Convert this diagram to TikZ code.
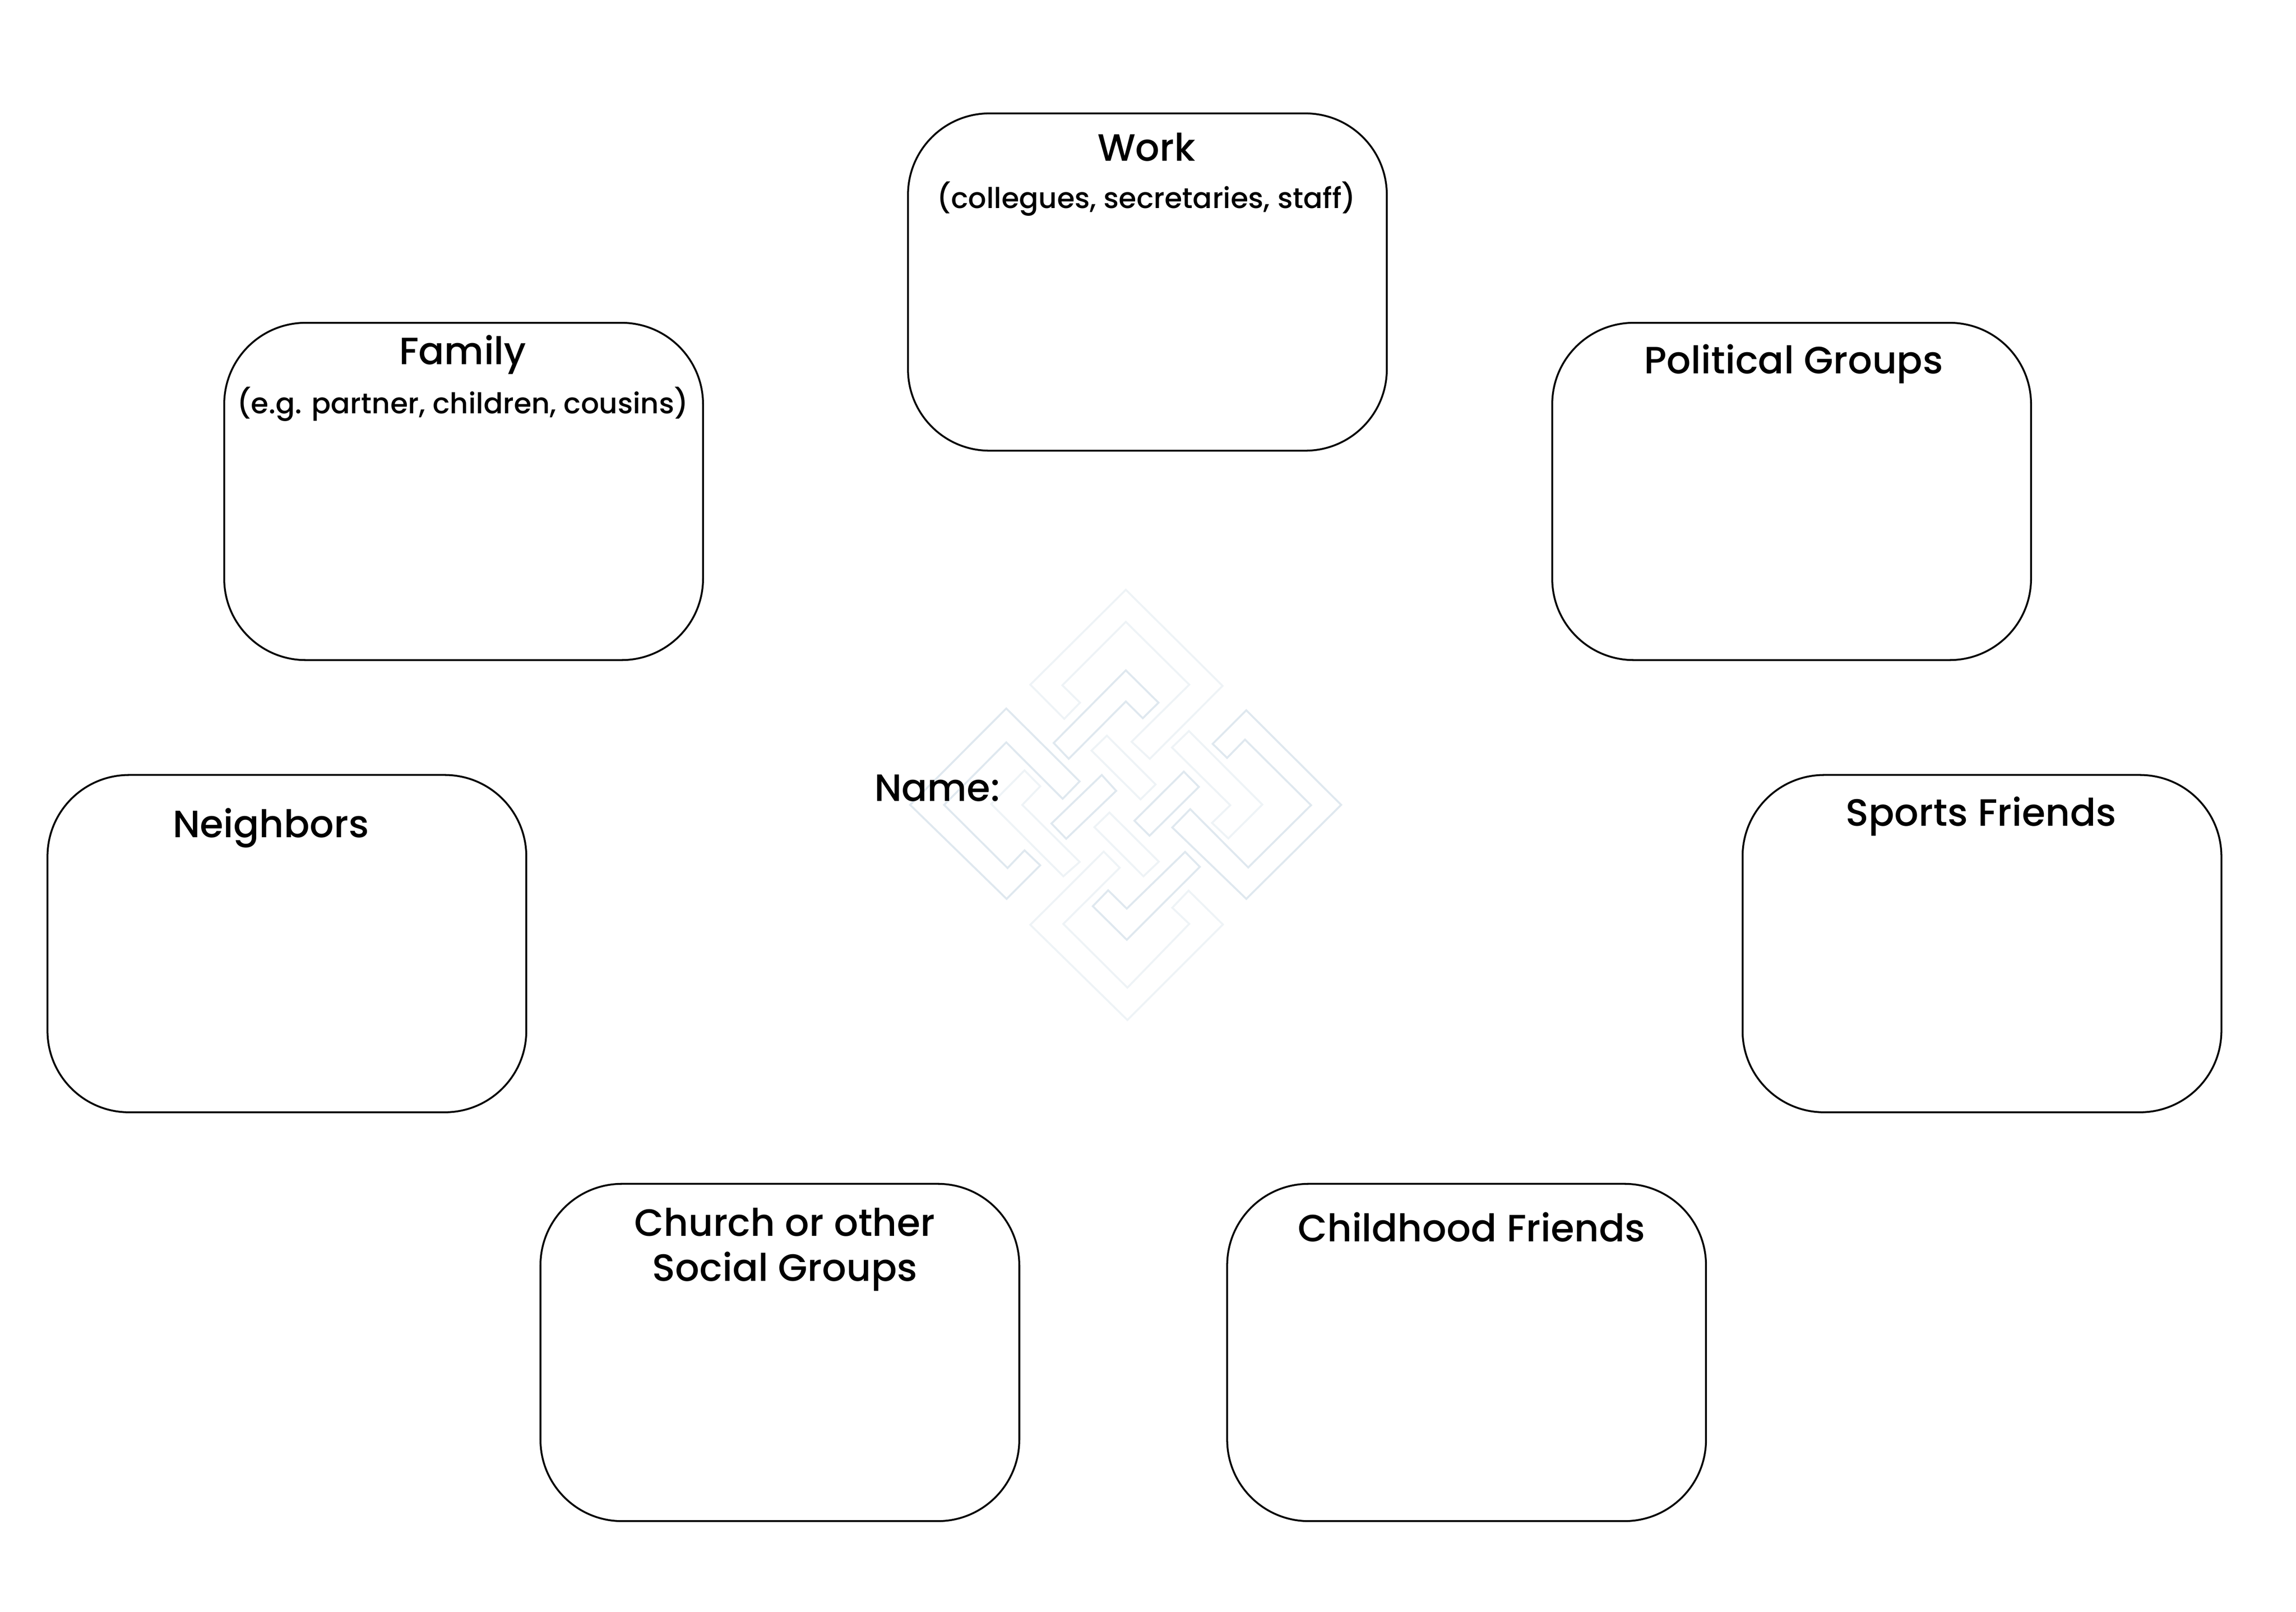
\documentclass[tikz,border=0pt]{standalone}
\usepackage{fontspec}
\setmainfont{Poppins Medium}
\definecolor{knotdark}{HTML}{DFE8EF}
\definecolor{knotlight}{HTML}{EEF3F6}
\tikzset{
  card/.style={draw=black,line width=1.15pt,rounded corners=1.78cm,minimum width=10.464cm,minimum height=7.37cm,inner sep=0pt,anchor=north west},
  title/.style={anchor=base,inner sep=0pt,font=\fontsize{23.65pt}{28pt}\selectfont,text=black},
  subtitle/.style={anchor=base,inner sep=0pt,font=\fontsize{17.75pt}{21pt}\selectfont,text=black},
  kd/.style={draw=knotdark,line width=1.2pt,miter limit=10},
  kl/.style={draw=knotlight,line width=1.2pt,miter limit=10}
}
\begin{document}
\begin{tikzpicture}[x=0.032cm,y=-0.032cm]
\useasboundingbox (0,0) rectangle (1568.125,1100.625);
% knot
\begin{scope}[xshift=19cm,yshift=-12.5cm,x=0.007cm*1,y=-0.006667cm]
\draw[kl] (800,58)--(1102,373)--(875,612)--(818,556)--(998,369)--(800,163)--(602,371)--(657,428)--(608,481)--(502,369)--cycle;
\draw[kd] (800,322)--(902,428)--(853,479)--(800,424)--(622,612)--(575,560)--cycle;
\draw[kd] (427,447)--(656,686)--(603,743)--(427,558)--(233,763)--(431,970)--(484,912)--(533,961)--(428,1071)--(127,763)--cycle;
\draw[kl] (484,650)--(533,702)--(477,763)--(656,950)--(605,997)--(380,760)--cycle;
\draw[kl] (741,536)--(893,696)--(846,745)--(693,585)--cycle;
\draw[kd] (725,665)--(770,717)--(614,874)--(568,824)--cycle;
\draw[kd] (981,654)--(1028,704)--(874,864)--(827,815)--cycle;
\draw[kl] (749,788)--(903,949)--(855,997)--(702,836)--cycle;
\draw[kl] (997,521)--(1226,762)--(1120,873)--(1069,822)--(1126,764)--(944,575)--cycle;
\draw[kd] (1176,453)--(1472,763)--(1176,1071)--(945,837)--(1001,777)--(1182,968)--(1378,764)--(1172,549)--(1116,609)--(1071,563)--cycle;
\draw[kd] (985,917)--(1031,966)--(803,1205)--(697,1095)--(745,1043)--(803,1103)--cycle;
\draw[kl] (731,916)--(781,969)--(605,1153)--(805,1362)--(998,1153)--(945,1100)--(996,1044)--(1103,1155)--(805,1468)--(502,1156)--cycle;
\end{scope}
% cards
\node[card] (work) at (619.5,76.8) {};
\node[card] (family) at (152.5,219.8) {};
\node[card] (political) at (1059.5,219.8) {};
\node[card] (neighbors) at (31.8,528.6) {};
\node[card] (sports) at (1189.5,528.6) {};
\node[card] (church) at (368.5,807.8) {};
\node[card] (childhood) at (837.5,807.8) {};
% labels
\node[title] (workT) at (783,110) {Work};
\node[subtitle] (workS) at (783,142.3) {(collegues, secretaries, staff)};
\node[title] (familyT) at (316,249) {Family};
\node[subtitle] (familyS) at (316,282.3) {(e.g. partner, children, cousins)};
\node[title] (politicalT) at (1225,255) {Political Groups};
\node[title] (neighborsT) at (185,572) {Neighbors};
\node[title] (sportsT) at (1353,564) {Sports Friends};
\node[title] (churchT) at (536,844) {Church or other};
\node[title] (churchU) at (536,875) {Social Groups};
\node[title] (childhoodT) at (1005,848) {Childhood Friends};
\node[title] (name) at (640,547) {Name:};
\end{tikzpicture}
\end{document}
